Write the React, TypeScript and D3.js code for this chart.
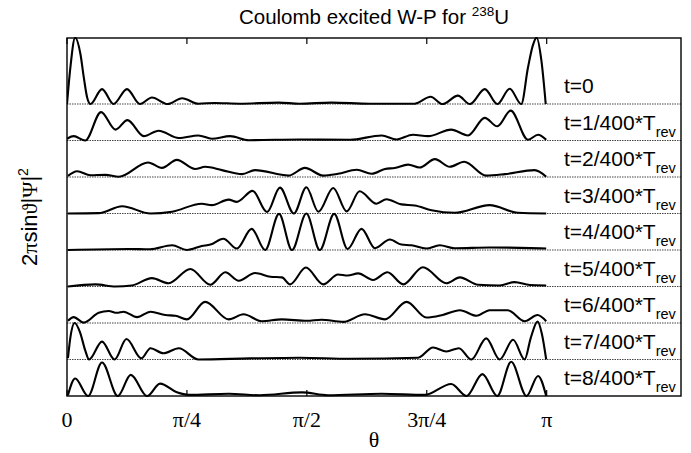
import React from "react";
import * as d3 from "d3";

// θ positions are in units of π; amplitudes in units of the row spacing
const ROW_LABELS = ["0", "1/400", "2/400", "3/400", "4/400", "5/400", "6/400", "7/400", "8/400"];
const TICK_VALUES = [0, 0.25, 0.5, 0.75, 1];
const TICK_LABELS = ["0", "π/4", "π/2", "3π/4", "π"];

const theta0 = [0, 0.007, 0.017, 0.028, 0.035, 0.042, 0.049, 0.073, 0.097, 0.125, 0.152, 0.177, 0.21, 0.24, 0.274, 0.308, 0.36, 0.441, 0.485, 0.551, 0.631, 0.725, 0.758, 0.783, 0.815, 0.84, 0.871, 0.897, 0.923, 0.947, 0.961, 0.971, 0.979, 0.989, 0.998];
const amp0 = [0, 1.0, 1.82, 1.37, 0.73, 0.18, 0, 0.41, 0, 0.41, 0, 0.18, 0, 0.16, 0.01, 0.03, 0.01, 0.04, 0.01, 0.04, 0.01, 0.01, 0.2, 0, 0.23, 0, 0.41, 0, 0.42, 0, 1.0, 1.6, 1.82, 1.19, 0];

const theta1 = [0, 0.014, 0.038, 0.071, 0.101, 0.126, 0.16, 0.191, 0.233, 0.274, 0.302, 0.34, 0.379, 0.485, 0.59, 0.656, 0.687, 0.721, 0.753, 0.801, 0.836, 0.871, 0.897, 0.925, 0.961, 0.982, 0.999];
const amp1 = [0.05, 0.12, 0, 0.78, 0.3, 0.56, 0.12, 0.27, 0.07, 0.14, 0.05, 0.12, 0.01, 0.03, 0.02, 0.14, 0.03, 0.16, 0.12, 0.3, 0.14, 0.62, 0.39, 0.82, 0.02, 0.16, 0.02];

const theta2 = [0.002, 0.021, 0.049, 0.08, 0.108, 0.169, 0.198, 0.229, 0.267, 0.288, 0.323, 0.365, 0.392, 0.462, 0.496, 0.534, 0.565, 0.604, 0.635, 0.663, 0.683, 0.711, 0.735, 0.767, 0.798, 0.828, 0.874, 0.913, 0.975, 0.999];
const amp2 = [0.03, 0.16, 0.05, 0.06, 0.01, 0.4, 0.25, 0.47, 0.22, 0.28, 0.19, 0.08, 0.19, 0.04, 0.25, 0.04, 0.09, 0.2, 0.09, 0.22, 0.25, 0.34, 0.26, 0.49, 0.28, 0.42, 0.04, 0.08, 0.19, 0.01];

const theta3 = [0.002, 0.066, 0.115, 0.174, 0.219, 0.281, 0.302, 0.337, 0.354, 0.387, 0.417, 0.444, 0.473, 0.499, 0.524, 0.555, 0.583, 0.61, 0.645, 0.666, 0.697, 0.725, 0.76, 0.808, 0.881, 0.94, 0.999];
const amp3 = [0, 0.01, 0.2, 0, 0.05, 0.27, 0.23, 0.38, 0.32, 0.62, 0.04, 0.71, 0, 0.72, 0.05, 0.7, 0.06, 0.61, 0.27, 0.39, 0.25, 0.22, 0.09, 0.02, 0.23, 0.02, 0];

const theta4 = [0.002, 0.129, 0.173, 0.219, 0.25, 0.281, 0.299, 0.326, 0.354, 0.385, 0.413, 0.442, 0.469, 0.499, 0.527, 0.557, 0.585, 0.614, 0.642, 0.673, 0.697, 0.718, 0.749, 0.777, 0.808, 0.881, 0.944, 0.999];
const amp4 = [0, 0.03, 0.02, 0.13, 0, 0.11, 0.15, 0.31, 0.04, 0.58, 0, 0.99, 0, 1.0, 0, 0.99, 0.03, 0.58, 0.05, 0.29, 0.15, 0.13, 0.04, 0.13, 0.05, 0.07, 0.06, 0.04];

const theta5 = [0.002, 0.059, 0.101, 0.135, 0.177, 0.212, 0.257, 0.299, 0.33, 0.358, 0.392, 0.424, 0.448, 0.465, 0.498, 0.534, 0.565, 0.585, 0.607, 0.638, 0.668, 0.701, 0.742, 0.791, 0.819, 0.857, 0.902, 0.933, 0.965, 0.999];
const amp5 = [0, 0.06, 0, 0.03, 0.23, 0.09, 0.48, 0.05, 0.39, 0.16, 0.37, 0.27, 0.25, 0.06, 0.52, 0.06, 0.33, 0.3, 0.36, 0.18, 0.39, 0.06, 0.53, 0.09, 0.25, 0.05, 0.03, 0.12, 0.04, 0.03];

const theta6 = [0.002, 0.014, 0.035, 0.066, 0.087, 0.104, 0.118, 0.146, 0.174, 0.205, 0.226, 0.25, 0.288, 0.337, 0.368, 0.406, 0.448, 0.5, 0.53, 0.576, 0.621, 0.663, 0.708, 0.749, 0.783, 0.819, 0.854, 0.881, 0.919, 0.954, 0.981, 0.999];
const amp6 = [0.06, 0.16, 0.01, 0.28, 0.33, 0.28, 0.31, 0.16, 0.31, 0.22, 0.2, 0.1, 0.58, 0.1, 0.24, 0.05, 0.1, 0.06, 0.09, 0.03, 0.24, 0.1, 0.58, 0.15, 0.22, 0.35, 0.2, 0.35, 0.35, 0.05, 0.22, 0.05];

const theta7 = [0.002, 0.007, 0.016, 0.027, 0.038, 0.046, 0.073, 0.099, 0.124, 0.155, 0.174, 0.201, 0.233, 0.274, 0.381, 0.485, 0.59, 0.732, 0.763, 0.791, 0.817, 0.843, 0.874, 0.902, 0.93, 0.954, 0.967, 0.981, 0.99, 0.999];
const amp7 = [0.04, 0.6, 1.0, 0.75, 0.25, 0, 0.49, 0, 0.56, 0.03, 0.31, 0.17, 0.31, 0, 0.03, 0.05, 0.02, 0.05, 0.33, 0.22, 0.31, 0, 0.58, 0, 0.54, 0, 0.6, 1.04, 0.7, 0];

const theta8 = [0.002, 0.017, 0.044, 0.073, 0.106, 0.133, 0.167, 0.194, 0.229, 0.254, 0.337, 0.402, 0.49, 0.544, 0.656, 0.746, 0.801, 0.833, 0.866, 0.897, 0.926, 0.958, 0.982, 0.999];
const amp8 = [0.02, 0.48, 0, 0.92, 0, 0.58, 0, 0.34, 0.1, 0.03, 0.06, 0.02, 0.1, 0.02, 0.06, 0.03, 0.33, 0, 0.6, 0, 0.94, 0, 0.55, 0];

const THETAS = [theta0, theta1, theta2, theta3, theta4, theta5, theta6, theta7, theta8];
const AMPS = [amp0, amp1, amp2, amp3, amp4, amp5, amp6, amp7, amp8];

const W = 691;
const H = 453;
const BOX = { left: 67, right: 681, top: 38, bottom: 396 };

export default function App() {
  const x = d3.scaleLinear().domain([0, 1.28]).range([BOX.left, BOX.right]);
  const y = d3.scaleLinear().domain([0, 9.81]).range([BOX.bottom, BOX.top]);
  const nRows = AMPS.length;
  const sans = "'Liberation Sans', Arial, Helvetica, sans-serif";
  const serif = "'Liberation Serif', 'Times New Roman', serif";

  return (
    <svg width={W} height={H} style={{ position: "absolute", left: 0, top: 0, background: "#fff" }}>
      <defs>
        <clipPath id="plotclip">
          <rect x={BOX.left} y={BOX.top - 1} width={BOX.right - BOX.left} height={BOX.bottom - BOX.top + 2} />
        </clipPath>
      </defs>
      <rect x={0} y={0} width={W} height={H} fill="#fff" />
      {/* dotted baselines */}
      {AMPS.map((_, i) => {
        const off = nRows - 1 - i;
        if (off === 0) return null;
        return (
          <line key={"b" + i} x1={BOX.left} x2={BOX.right} y1={y(off)} y2={y(off)}
            stroke="#444" strokeWidth={1.1} strokeDasharray="1.5,1" />
        );
      })}
      {/* curves */}
      <g clipPath="url(#plotclip)">
        {AMPS.map((amp, i) => {
          const off = nRows - 1 - i;
          const th = THETAS[i];
          const line = d3.line<number>()
            .x((_, j) => x(th[j]))
            .y((d) => y(off + d))
            .curve(d3.curveMonotoneX);
          return <path key={"c" + i} d={line(amp) || ""} fill="none" stroke="#000" strokeWidth={2.1} strokeLinejoin="round" />;
        })}
      </g>
      {/* box */}
      <rect x={BOX.left} y={BOX.top} width={BOX.right - BOX.left} height={BOX.bottom - BOX.top}
        fill="none" stroke="#000" strokeWidth={1.4} />
      {/* ticks */}
      {TICK_VALUES.map((v, i) => (
        <g key={"t" + i}>
          <line x1={x(v)} x2={x(v)} y1={BOX.bottom} y2={BOX.bottom - 6} stroke="#000" strokeWidth={1.2} />
          <line x1={x(v)} x2={x(v)} y1={BOX.top} y2={BOX.top + 6} stroke="#000" strokeWidth={1.2} />
          <text x={x(v)} y={427} textAnchor="middle" fontFamily={serif} fontSize={22} fill="#000">
            {TICK_LABELS[i]}
          </text>
        </g>
      ))}
      {/* row labels */}
      {ROW_LABELS.map((lab, i) => {
        const off = nRows - 1 - i;
        const yy = y(off) - 11;
        return (
          <text key={"l" + i} x={564} y={yy} fontFamily={sans} fontSize={21} fill="#000">
            {i === 0 ? "t=0" : (
              <>
                {"t=" + lab + "*T"}
                <tspan dy={7} fontSize={14.5}>rev</tspan>
              </>
            )}
          </text>
        );
      })}
      {/* title */}
      <text x={(BOX.left + BOX.right) / 2} y={24} textAnchor="middle" fontFamily={sans} fontSize={20.5} fill="#000">
        Coulomb excited W-P for <tspan dy={-8} fontSize={13.5}>238</tspan><tspan dy={8}>U</tspan>
      </text>
      {/* x label */}
      <text x={(BOX.left + BOX.right) / 2} y={447} textAnchor="middle" fontFamily={serif} fontSize={22} fill="#000">θ</text>
      {/* y label */}
      <text transform={`translate(37,${(BOX.top + BOX.bottom) / 2}) rotate(-90)`} textAnchor="middle"
        fontFamily={sans} fontSize={22} fill="#000">
        2<tspan fontFamily={serif}>π</tspan>sin<tspan fontFamily={serif}>ϑ</tspan>|<tspan fontFamily={serif}>Ψ</tspan>|<tspan dy={-9} fontSize={14}>2</tspan>
      </text>
    </svg>
  );
}
